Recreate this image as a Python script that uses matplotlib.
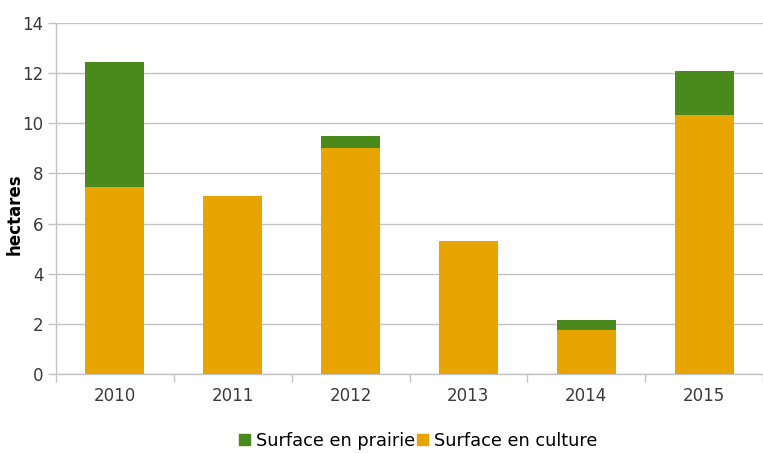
import matplotlib
matplotlib.use("Agg")
import matplotlib.pyplot as plt
from matplotlib.patches import Patch
import numpy as np

years = ["2010", "2011", "2012", "2013", "2014", "2015"]
culture = [7.47, 7.1, 9.0, 5.3, 1.75, 10.33]
prairie = [4.98, 0.0, 0.5, 0.0, 0.4, 1.75]

green = "#4a8a1c"
orange = "#e8a400"
grid_c = "#c3c3c3"
text_c = "#3a3a3a"

fig = plt.figure(figsize=(7.63, 4.53), dpi=100)
ax = fig.add_axes([56 / 763, 0.174, 1 - 56 / 763, 0.776])

x = np.arange(len(years))
ax.bar(x, culture, width=0.5, color=orange, zorder=3)
ax.bar(x, prairie, width=0.5, bottom=culture, color=green, zorder=3)

ax.set_ylim(0, 14)
ax.set_yticks(range(0, 15, 2))
ax.set_xlim(-0.5, -0.5 + 707 / 119.2)
ax.grid(axis="y", color=grid_c, linewidth=1, zorder=0)

# category labels centred under bars, separator ticks between categories
ax.set_xticks(x)
ax.set_xticklabels(years)
ax.tick_params(axis="x", length=0, pad=9, labelsize=12, labelcolor=text_c)
ax.set_xticks(np.arange(-0.5, 6.0, 1.0), minor=True)
ax.tick_params(axis="x", which="minor", length=6, color=grid_c, width=1)
ax.tick_params(axis="y", length=6, color=grid_c, width=1, labelsize=12,
               labelcolor=text_c, pad=3)

for s in ["top", "right"]:
    ax.spines[s].set_visible(False)
for s in ["left", "bottom"]:
    ax.spines[s].set_color(grid_c)
    ax.spines[s].set_linewidth(1)

ax.set_ylabel("hectares", fontsize=12, fontweight="bold", color="black")
ax.yaxis.set_label_coords(-0.046, 0.455)

handles = [Patch(color=green), Patch(color=orange)]
fig.legend(handles, ["Surface en prairie", "Surface en culture"],
           loc="center", bbox_to_anchor=(0.548, 0.027), ncol=2, frameon=False,
           fontsize=12.8, handlelength=0.6, handleheight=0.6, handletextpad=0.35,
           columnspacing=0.1, labelcolor="black", borderpad=0)

fig.savefig("out.png", dpi=100)
